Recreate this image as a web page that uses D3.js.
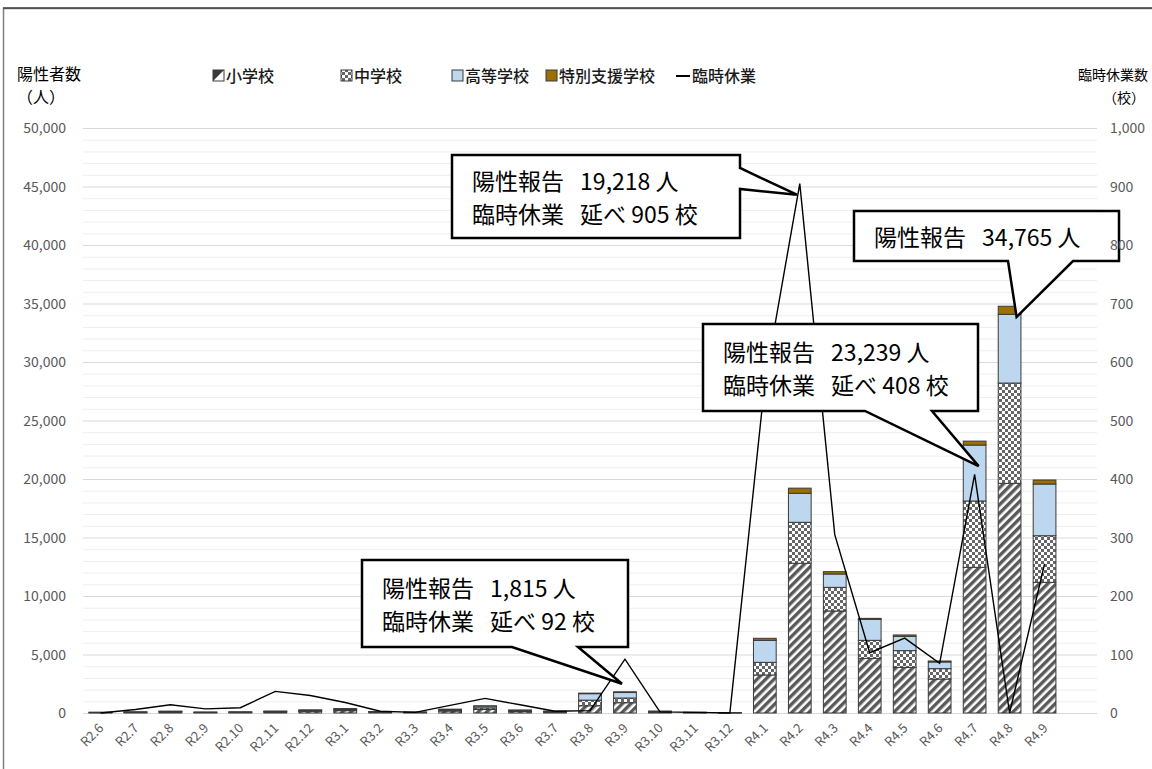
<!DOCTYPE html>
<html>
<head>
<meta charset="utf-8">
<script src="https://cdn.jsdelivr.net/npm/d3@7"></script>
<style>
  body { margin: 0; background: #fff; }
  text { font-family: "Noto Sans CJK JP", "Noto Sans", sans-serif; }
</style>
</head>
<body>
<svg id="chart" width="1152" height="769"></svg>
<script>
// ------- Data -------
const months = ["R2.6", "R2.7", "R2.8", "R2.9", "R2.10", "R2.11", "R2.12",
  "R3.1", "R3.2", "R3.3", "R3.4", "R3.5", "R3.6", "R3.7", "R3.8", "R3.9", "R3.10", "R3.11", "R3.12",
  "R4.1", "R4.2", "R4.3", "R4.4", "R4.5", "R4.6", "R4.7", "R4.8", "R4.9"];
const elementary = [30, 50, 80, 40, 50, 80, 140, 200, 70, 40, 170, 300, 130, 80, 620, 880, 80, 30, 15,
  3250, 12800, 8720, 4670, 3900, 2900, 12450, 19630, 11170];
const juniorHigh = [15, 20, 35, 15, 20, 40, 60, 90, 30, 20, 80, 140, 60, 40, 480, 400, 40, 15, 8,
  1080, 3500, 2020, 1540, 1430, 890, 5670, 8570, 3980];
const highSchool = [12, 15, 30, 15, 15, 30, 50, 70, 25, 15, 60, 150, 50, 30, 550, 470, 30, 12, 6,
  1880, 2480, 1140, 1790, 1220, 570, 4780, 5875, 4420];
const specialNeeds = [2, 3, 5, 2, 3, 5, 8, 10, 5, 3, 10, 20, 8, 5, 50, 65, 5, 2, 1,
  175, 438, 200, 90, 120, 85, 339, 690, 345];
const closures = [0, 6, 14, 7, 9, 37, 30, 18, 3, 1, 13, 25, 14, 3, 4, 92, 2, 1, 0,
  565, 905, 305, 103, 128, 85, 408, 0, 255];

const seriesNames = ["小学校", "中学校", "高等学校", "特別支援学校"];
const lineName = "臨時休業";
const leftTicks = d3.range(0, 50001, 5000);
const rightTicks = d3.range(0, 1001, 100);

const gap = "\u2002\u2009";
const callouts = [
  { lines: ["陽性報告" + gap + "1,815 人", "臨時休業" + gap + "延べ 92 校"], box: [362, 560, 628, 647], side: "bottom", base: [512, 578], cat: "R3.9", dx: -3, v: 2500 },
  { lines: ["陽性報告" + gap + "19,218 人", "臨時休業" + gap + "延べ 905 校"], box: [452, 155, 740, 238], side: "right", base: [168, 189], cat: "R4.2", dx: -3, v: 44300 },
  { lines: ["陽性報告" + gap + "23,239 人", "臨時休業" + gap + "延べ 408 校"], box: [703, 324, 978, 411], side: "bottom", base: [865, 932], cat: "R4.7", dx: 4, v: 21100 },
  { lines: ["陽性報告" + gap + "34,765 人"], box: [854, 211, 1119, 261], side: "bottom", base: [1008, 1073], cat: "R4.8", dx: 7, v: 33850 }
];

// ------- Layout -------
const svg = d3.select("#chart");
const plot = { left: 83, right: 1097, top: 128, bottom: 713 };

// chart frame
svg.append("rect")
  .attr("x", 3.5).attr("y", 8.5)
  .attr("width", 1200).attr("height", 800)
  .attr("fill", "none")
  .attr("stroke", "#7f7f7f")
  .attr("stroke-width", 1.5);
svg.append("line")
  .attr("x1", 3).attr("x2", 1152).attr("y1", 8).attr("y2", 8)
  .attr("stroke", "#404040").attr("stroke-width", 1.5);

const x = d3.scaleBand()
  .domain(months.concat([""]))
  .range([plot.left, plot.right])
  .paddingInner(0.35)
  .paddingOuter(0.175);
const y = d3.scaleLinear().domain([0, 50000]).range([plot.bottom, plot.top]);
const yR = d3.scaleLinear().domain([0, 1000]).range([plot.bottom, plot.top]);

// patterns
const defs = svg.append("defs");
const stripe = defs.append("pattern")
  .attr("id", "pElem")
  .attr("patternUnits", "userSpaceOnUse")
  .attr("width", 6).attr("height", 6)
  .attr("patternTransform", "rotate(45)");
stripe.append("rect").attr("width", 6).attr("height", 6).attr("fill", "#fff");
stripe.append("rect").attr("width", 3.4).attr("height", 6).attr("fill", "#595959");

const checker = defs.append("pattern")
  .attr("id", "pJunior")
  .attr("patternUnits", "userSpaceOnUse")
  .attr("width", 6).attr("height", 6);
checker.append("rect").attr("width", 6).attr("height", 6).attr("fill", "#fff");
checker.append("rect").attr("width", 3).attr("height", 3).attr("fill", "#666");
checker.append("rect").attr("x", 3).attr("y", 3).attr("width", 3).attr("height", 3).attr("fill", "#666");

const fills = {
  "小学校": "url(#pElem)",
  "中学校": "url(#pJunior)",
  "高等学校": "#BDD7EE",
  "特別支援学校": "#9C7000"
};

// ------- Gridlines -------
const minor = d3.range(1000, 50001, 1000).filter(d => d % 5000 !== 0);
svg.append("g").selectAll("line")
  .data(minor)
  .enter().append("line")
  .attr("x1", plot.left).attr("x2", plot.right)
  .attr("y1", d => y(d) + 0.5).attr("y2", d => y(d) + 0.5)
  .attr("stroke", "#EEEEEE");
svg.append("g").selectAll("line")
  .data(leftTicks)
  .enter().append("line")
  .attr("x1", plot.left).attr("x2", plot.right)
  .attr("y1", d => y(d) + 0.5).attr("y2", d => y(d) + 0.5)
  .attr("stroke", "#D9D9D9");

// ------- Bars -------
const table = months.map((m, i) => ({
  month: m,
  "小学校": elementary[i],
  "中学校": juniorHigh[i],
  "高等学校": highSchool[i],
  "特別支援学校": specialNeeds[i]
}));
const stacked = d3.stack().keys(seriesNames)(table);

svg.append("g").selectAll("g")
  .data(stacked)
  .enter().append("g")
  .attr("fill", d => fills[d.key])
  .selectAll("rect")
  .data(d => d)
  .enter().append("rect")
  .attr("x", d => x(d.data.month))
  .attr("width", x.bandwidth())
  .attr("y", d => y(d[1]))
  .attr("height", d => y(d[0]) - y(d[1]))
  .attr("stroke", "#3a3a3a")
  .attr("stroke-width", 1);

// ------- Line -------
const line = d3.line()
  .x((d, i) => x(months[i]) + x.bandwidth() / 2)
  .y(d => yR(d));
svg.append("path")
  .datum(closures)
  .attr("d", line)
  .attr("fill", "none")
  .attr("stroke", "#000")
  .attr("stroke-width", 1.4)
  .attr("stroke-linejoin", "miter");

// ------- Callouts -------
function calloutPath(c) {
  const [x0, y0, x1, y1] = c.box;
  const tx = x(c.cat) + x.bandwidth() / 2 + c.dx;
  const ty = y(c.v);
  if (c.side === "bottom") {
    return `M${x0},${y0}H${x1}V${y1}H${c.base[1]}L${tx},${ty}L${c.base[0]},${y1}H${x0}Z`;
  }
  return `M${x0},${y0}H${x1}V${c.base[0]}L${tx},${ty}L${x1},${c.base[1]}V${y1}H${x0}Z`;
}
const cg = svg.append("g").selectAll("g")
  .data(callouts)
  .enter().append("g");
cg.append("path")
  .attr("d", calloutPath)
  .attr("fill", "#fff")
  .attr("stroke", "#000")
  .attr("stroke-width", 2.5)
  .attr("stroke-linejoin", "miter");
cg.each(function (c) {
  const g = d3.select(this);
  const [x0, y0, x1, y1] = c.box;
  const mid = (y0 + y1) / 2;
  const lh = 33;
  c.lines.forEach((t, i) => {
    g.append("text")
      .attr("x", x0 + 20)
      .attr("y", mid + (i - (c.lines.length - 1) / 2) * lh + 10)
      .attr("font-size", "23px")
      .attr("fill", "#000")
      .text(t);
  });
});

// ------- Axes -------
svg.append("g").selectAll("text")
  .data(leftTicks)
  .enter().append("text")
  .attr("x", 66)
  .attr("y", d => y(d) + 5)
  .attr("text-anchor", "end")
  .attr("font-size", "14px")
  .attr("fill", "#595959")
  .text(d => d3.format(",")(d));

svg.append("g").selectAll("text")
  .data(rightTicks)
  .enter().append("text")
  .attr("x", 1110)
  .attr("y", d => yR(d) + 5)
  .attr("text-anchor", "start")
  .attr("font-size", "14px")
  .attr("fill", "#595959")
  .text(d => d3.format(",")(d));

svg.append("g").selectAll("text")
  .data(months)
  .enter().append("text")
  .attr("text-anchor", "end")
  .attr("font-size", "13px")
  .attr("fill", "#595959")
  .attr("transform", d => `translate(${x(d) + x.bandwidth() / 2 + 4},${plot.bottom + 16}) rotate(-45)`)
  .text(d => d);

// axis titles
svg.append("text").attr("x", 17).attr("y", 80).attr("font-size", "16px").attr("fill", "#000").text("陽性者数");
svg.append("text").attr("x", 17).attr("y", 103).attr("font-size", "16px").attr("fill", "#000").text("（人）");
svg.append("text").attr("x", 1148).attr("y", 80).attr("text-anchor", "end").attr("font-size", "14px").attr("fill", "#000").text("臨時休業数");
svg.append("text").attr("x", 1145).attr("y", 103).attr("text-anchor", "end").attr("font-size", "14px").attr("fill", "#000").text("（校）");

// ------- Legend -------
const legendX = [213, 341, 452, 546];
const legend = svg.append("g");
seriesNames.forEach((name, i) => {
  const lx = legendX[i];
  if (i === 0) {
    legend.append("rect").attr("x", lx).attr("y", 70).attr("width", 11).attr("height", 11)
      .attr("fill", "#fff").attr("stroke", "#3a3a3a");
    legend.append("path").attr("d", `M${lx},70H${lx + 11}L${lx},81Z`).attr("fill", "#3a3a3a");
  } else {
    legend.append("rect").attr("x", lx).attr("y", 70).attr("width", 11).attr("height", 11)
      .attr("fill", fills[name]).attr("stroke", "#3a3a3a");
  }
  legend.append("text").attr("x", lx + 13).attr("y", 82)
    .attr("font-size", "16px").attr("font-weight", 500).attr("fill", "#1a1a1a").text(name);
});
legend.append("line").attr("x1", 676).attr("x2", 690).attr("y1", 76).attr("y2", 76)
  .attr("stroke", "#000").attr("stroke-width", 2);
legend.append("text").attr("x", 692).attr("y", 82)
  .attr("font-size", "16px").attr("font-weight", 500).attr("fill", "#1a1a1a").text(lineName);
</script>
</body>
</html>
